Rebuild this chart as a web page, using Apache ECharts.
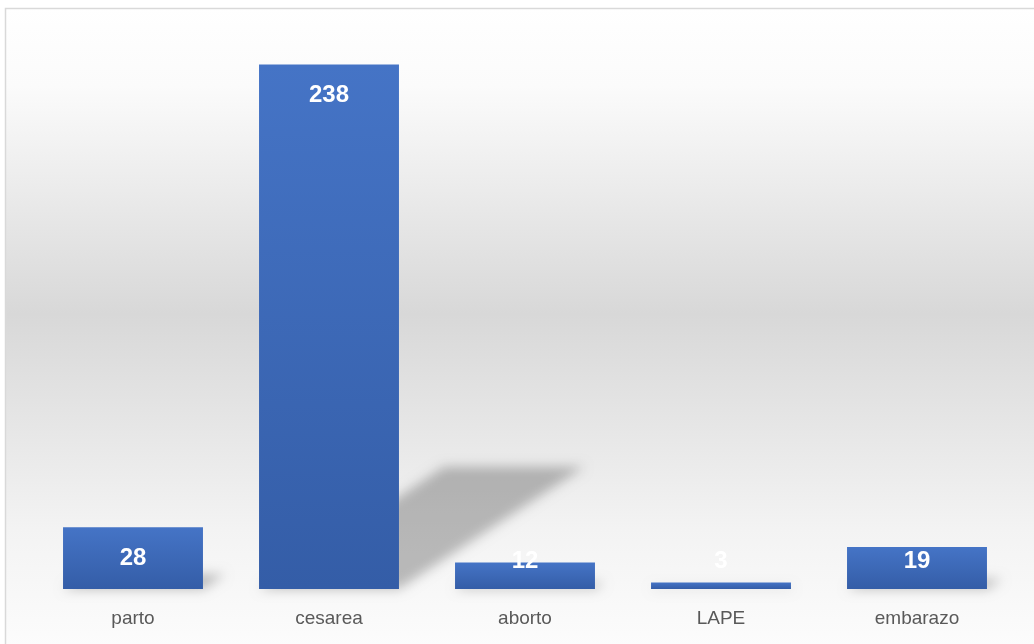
<!DOCTYPE html>
<html><head><meta charset="utf-8">
<script src="https://cdn.jsdelivr.net/npm/echarts@6/dist/echarts.min.js"></script>
<style>html,body{margin:0;padding:0;background:#fff}#c{width:1034px;height:644px}</style>
</head><body><div id="c"></div>
<script>
const categories = ['parto', 'cesarea', 'aborto', 'LAPE', 'embarazo'];
const values = [28, 238, 12, 3, 19];

const chart = echarts.init(document.getElementById('c'), null, {renderer: 'canvas'});
const BAR_RATIO = 140 / 196;

function shadowItem(params, api) {
  const i = api.value(0), v = api.value(1);
  const base = api.coord([i, 0]);
  const top = api.coord([i, v]);
  const w = api.size([1, 0])[0] * BAR_RATIO;
  const h = base[1] - top[1];
  const xl = base[0] - w / 2, xr = base[0] + w / 2, y0 = base[1];
  const dx = 0.353 * h, dy = 0.233 * h;
  const OFF = 3000;
  return {
    type: 'polygon',
    shape: {points: [[xl - OFF, y0], [xr - OFF, y0], [xr + dx - OFF, y0 - dy], [xl + dx - OFF, y0 - dy]]},
    style: {fill: '#000', shadowBlur: 12, shadowOffsetX: OFF, shadowColor: 'rgba(0,0,0,0.25)'},
    silent: true
  };
}

const option = {
  animation: false,
  backgroundColor: '#ffffff',
  graphic: [{
    type: 'rect', z: -10, silent: true,
    shape: {x: 5.5, y: 8.5, width: 1040, height: 650},
    style: {
      fill: new echarts.graphic.LinearGradient(0, 0, 0, 1, [
        {offset: 0, color: '#ffffff'},
        {offset: 0.12, color: '#fbfbfb'},
        {offset: 0.47, color: '#d8d8d8'},
        {offset: 0.8, color: '#f3f3f3'},
        {offset: 1, color: '#fdfdfd'}
      ]),
      stroke: '#d9d9d9', lineWidth: 1.5
    }
  }],
  grid: {left: 35, right: 19, top: 38, bottom: 55, containLabel: false},
  xAxis: {
    type: 'category', data: categories,
    axisLine: {show: false}, axisTick: {show: false},
    axisLabel: {color: '#595959', fontSize: 19, fontFamily: 'Liberation Sans, Arial, sans-serif', margin: 20}
  },
  yAxis: {type: 'value', min: 0, max: 250, show: false, splitLine: {show: false}},
  series: [
    {
      type: 'custom', renderItem: shadowItem, z: 1,
      data: values.map((v, i) => [i, v]), encode: {x: 0, y: 1}, clip: false
    },
    {
      type: 'bar', z: 2, barWidth: '71.4%',
      data: values,
      itemStyle: {
        color: new echarts.graphic.LinearGradient(0, 0, 0, 1, [
          {offset: 0, color: '#4574c6'},
          {offset: 1, color: '#345da7'}
        ])
      },
      label: {
        show: true, position: 'insideTop', distance: 19,
        color: '#ffffff', fontSize: 24, fontWeight: 'bold',
        fontFamily: 'Liberation Sans, Arial, sans-serif'
      }
    }
  ]
};
chart.setOption(option);

// Excel-style clamping of inside-end labels on short bars
const baseY = chart.convertToPixel({yAxisIndex: 0}, 0);
const barData = values.map(v => {
  const h = baseY - chart.convertToPixel({yAxisIndex: 0}, v);
  return {value: v, label: {distance: Math.min(19, h - 40)}};
});
chart.setOption({series: [{}, {data: barData}]});
</script></body></html>
